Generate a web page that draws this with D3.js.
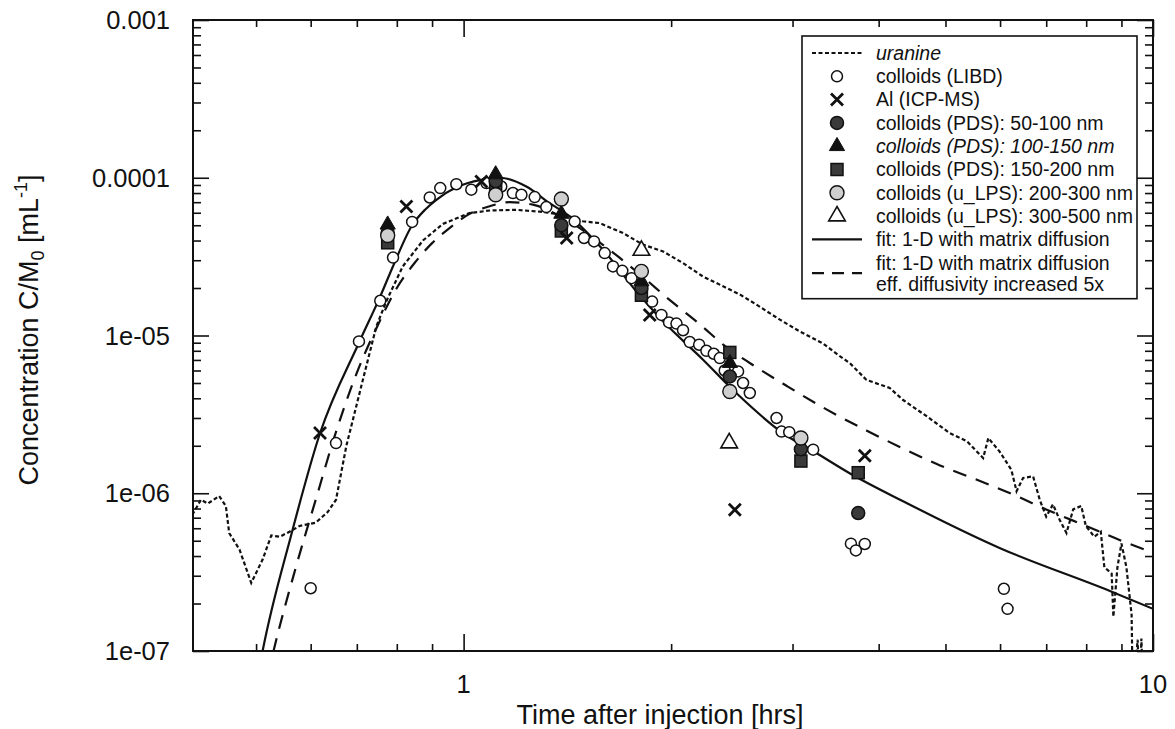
<!DOCTYPE html>
<html>
<head>
<meta charset="utf-8">
<script src="https://cdn.jsdelivr.net/npm/d3@7"></script>
<style>
  body { margin: 0; background: #fff; }
  text { font-family: "Liberation Sans", Arial, sans-serif; fill: #111; }
</style>
</head>
<body>
<svg id="chart" width="1175" height="729"></svg>
<script>
// ---- data: [time hrs, C/M0 per mL]
const uranine = [
  [0.404, 7.3e-7], [0.416, 9.1e-7], [0.4255, 8.6e-7], [0.442, 9.6e-7], [0.452, 8.3e-7],
  [0.457, 5.6e-7], [0.473, 4.4e-7], [0.492, 2.7e-7], [0.511, 3.8e-7], [0.526, 5.4e-7],
  [0.541, 5.3e-7], [0.559, 5.7e-7], [0.578, 6.2e-7], [0.61, 6.5e-7], [0.635, 7.6e-7],
  [0.653, 9.1e-7], [0.676, 2.0e-6], [0.714, 5.2e-6], [0.747, 1.14e-5], [0.772, 1.64e-5],
  [0.816, 2.74e-5], [0.873, 4.0e-5], [0.933, 5.1e-5], [1.02, 5.97e-5], [1.091, 6.2e-5],
  [1.192, 6.26e-5], [1.289, 6.1e-5], [1.409, 5.8e-5], [1.489, 5.3e-5], [1.575, 5.16e-5],
  [1.703, 4.46e-5], [1.82, 3.77e-5], [1.947, 3.41e-5], [2.08, 2.88e-5], [2.223, 2.37e-5],
  [2.379, 2.05e-5], [2.516, 1.82e-5], [2.659, 1.57e-5], [2.876, 1.26e-5], [3.074, 1.06e-5],
  [3.321, 8.9e-6], [3.513, 7.4e-6], [3.63, 6.7e-6], [3.84, 5.23e-6], [4.15, 4.65e-6],
  [4.34, 3.9e-6], [4.7, 3.07e-6], [5.07, 2.41e-6], [5.37, 2.14e-6], [5.67, 1.67e-6],
  [5.77, 2.24e-6], [5.99, 1.84e-6], [6.23, 1.41e-6], [6.34, 1.03e-6], [6.48, 1.25e-6],
  [6.7, 1.28e-6], [6.85, 9.1e-7], [7.0, 7.1e-7], [7.16, 8.5e-7], [7.32, 6.8e-7],
  [7.49, 5.6e-7], [7.66, 7.9e-7], [7.87, 8.3e-7], [7.99, 6.2e-7], [8.22, 5.3e-7],
  [8.4, 5.7e-7], [8.5, 3.4e-7], [8.71, 3.1e-7], [8.76, 1.65e-7], [8.88, 3.4e-7],
  [9.0, 4.8e-7], [9.15, 3.4e-7], [9.31, 1.7e-7], [9.35, 5e-8], [9.5, 1.18e-7],
  [9.56, 5e-8], [9.62, 1.2e-7], [9.68, 5e-8]
];

const fitSolid = [
  [0.50, 6e-8], [0.511, 1e-7], [0.562, 5.4e-7], [0.619, 2.4e-6], [0.705, 9.0e-6],
  [0.757, 1.77e-5], [0.79, 2.75e-5], [0.842, 5.0e-5], [0.88, 6.3e-5], [0.913, 7.25e-5],
  [0.976, 8.7e-5], [1.061, 9.7e-5], [1.13, 1.0e-4], [1.233, 8.8e-5], [1.333, 6.9e-5],
  [1.425, 5.7e-5], [1.593, 3.5e-5], [1.781, 1.9e-5], [1.947, 1.23e-5], [2.223, 7.05e-6],
  [2.488, 4.3e-6], [2.907, 2.4e-6], [3.248, 1.8e-6], [3.63, 1.34e-6], [4.34, 8.9e-7],
  [5.99, 4.5e-7], [8.66, 2.4e-7], [10, 1.85e-7]
];

const fitDashed = [
  [0.52, 7e-8], [0.53, 1e-7], [0.57, 3.3e-7], [0.612, 9.5e-7], [0.65, 2.3e-6],
  [0.70, 5.8e-6], [0.75, 1.15e-5], [0.80, 2.0e-5], [0.85, 2.9e-5], [0.90, 3.85e-5],
  [0.954, 4.8e-5], [1.02, 5.9e-5], [1.091, 6.6e-5], [1.166, 7.0e-5], [1.26, 6.75e-5],
  [1.40, 5.5e-5], [1.6, 3.7e-5], [1.8, 2.45e-5], [2.0, 1.65e-5], [2.2, 1.18e-5],
  [2.4, 8.5e-6], [2.614, 6.6e-6], [2.94, 4.8e-6], [3.36, 3.4e-6], [3.84, 2.5e-6],
  [4.34, 1.92e-6], [4.91, 1.5e-6], [5.6, 1.2e-6], [6.34, 9.6e-7], [7.0, 7.9e-7],
  [8.0, 6.2e-7], [9.0, 5.0e-7], [10, 4.2e-7]
];

const libd = [
  [0.60, 2.5e-7], [0.653, 2.08e-6], [0.705, 9.17e-6], [0.757, 1.66e-5], [0.790, 3.12e-5],
  [0.842, 5.25e-5], [0.893, 7.5e-5], [0.925, 8.6e-5], [0.976, 9.1e-5], [1.026, 8.4e-5],
  [1.079, 9.26e-5], [1.134, 8.8e-5], [1.179, 8.0e-5], [1.213, 7.8e-5], [1.268, 7.54e-5],
  [1.318, 6.52e-5], [1.449, 5.28e-5], [1.495, 4.15e-5], [1.546, 3.95e-5], [1.602, 3.33e-5],
  [1.647, 2.74e-5], [1.699, 2.57e-5], [1.752, 2.31e-5], [1.877, 1.64e-5], [1.936, 1.35e-5],
  [1.986, 1.21e-5], [2.036, 1.19e-5], [2.081, 1.08e-5], [2.128, 9.09e-6], [2.196, 8.74e-6],
  [2.250, 8.0e-6], [2.306, 7.66e-6], [2.353, 7.19e-6], [2.392, 6.0e-6], [2.501, 5.92e-6],
  [2.543, 5.0e-6], [2.601, 4.32e-6], [2.844, 3.0e-6], [2.892, 2.46e-6], [2.967, 2.44e-6],
  [3.214, 1.89e-6], [3.646, 4.79e-7], [3.707, 4.34e-7], [3.819, 4.77e-7], [6.077, 2.48e-7],
  [6.152, 1.85e-7]
];

const alIcp = [
  [0.619, 2.41e-6], [0.826, 6.58e-5], [1.061, 9.47e-5], [1.411, 4.15e-5], [1.862, 1.35e-5],
  [2.474, 7.86e-7], [3.819, 1.73e-6]
];

const pds50 = [[0.776, 4.48e-5], [1.113, 9.5e-5], [1.386, 5.0e-5], [1.811, 2.0e-5], [2.433, 5.5e-6], [3.085, 1.9e-6], [3.736, 7.49e-7]];
const pds100 = [[0.776, 5.04e-5], [1.113, 1.05e-4], [1.386, 5.9e-5], [1.811, 2.2e-5], [2.433, 6.69e-6]];
const pds150 = [[0.776, 3.87e-5], [1.113, 9.0e-5], [1.386, 4.6e-5], [1.811, 1.8e-5], [2.433, 7.81e-6], [3.085, 1.6e-6], [3.736, 1.35e-6]];
const lps200 = [[0.776, 4.3e-5], [1.113, 7.8e-5], [1.386, 7.33e-5], [1.811, 2.55e-5], [2.433, 4.42e-6], [3.085, 2.24e-6]];
const lps300 = [[1.811, 3.46e-5], [2.428, 2.08e-6]];

const xMajor = [1, 10];
const xMinor = [0.5, 0.6, 0.7, 0.8, 0.9, 2, 3, 4, 5, 6, 7, 8, 9];
const yMajor = [1e-7, 1e-6, 1e-5, 1e-4, 1e-3];
const yMajorLabels = ["1e-07", "1e-06", "1e-05", "0.0001", "0.001"];

const legendItems = [
  { kind: "uranine", text: ["uranine"], italic: true },
  { kind: "libd", text: ["colloids (LIBD)"] },
  { kind: "al", text: ["Al (ICP-MS)"] },
  { kind: "pds50", text: ["colloids (PDS): 50-100 nm"] },
  { kind: "pds100", text: ["colloids (PDS): 100-150 nm"], italic: true },
  { kind: "pds150", text: ["colloids (PDS): 150-200 nm"] },
  { kind: "lps200", text: ["colloids (u_LPS): 200-300 nm"] },
  { kind: "lps300", text: ["colloids (u_LPS): 300-500 nm"] },
  { kind: "solid", text: ["fit: 1-D with matrix diffusion"] },
  { kind: "dashed", text: ["fit: 1-D with matrix diffusion", "eff. diffusivity increased 5x"] }
];

// ---- layout
const W = 1175, H = 729;
const margin = { left: 193, right: W - 1153, top: 20, bottom: H - 651 };
const svg = d3.select("#chart");

const x = d3.scaleLog().domain([0.405, 10]).range([margin.left, W - margin.right]);
const y = d3.scaleLog().domain([1e-7, 1e-3]).range([H - margin.bottom, margin.top]);

// minor y ticks 2..9 in each decade
const yMinor = [];
for (let e = -7; e < -3; e++) for (let k = 2; k <= 9; k++) yMinor.push(k * Math.pow(10, e));

svg.append("defs").append("clipPath").attr("id", "clip")
  .append("rect")
  .attr("x", x.range()[0]).attr("y", y.range()[1])
  .attr("width", x.range()[1] - x.range()[0])
  .attr("height", y.range()[0] - y.range()[1]);

// ticks on all four sides, pointing inward
function tickAxis(axisFn, scale, vals, size, transform) {
  const g = svg.append("g").attr("transform", transform)
    .call(axisFn(scale).tickValues(vals).tickSize(size).tickFormat(""));
  g.select(".domain").remove();
  g.selectAll(".tick line").attr("stroke", "#111").attr("stroke-width", 1.6);
  return g;
}
const bx = y.range()[0], tx = y.range()[1], lx = x.range()[0], rx = x.range()[1];
tickAxis(d3.axisBottom, x, xMajor, -17, `translate(0,${bx})`);
tickAxis(d3.axisBottom, x, xMinor, -7, `translate(0,${bx})`);
tickAxis(d3.axisTop, x, xMajor, -17, `translate(0,${tx})`);
tickAxis(d3.axisTop, x, xMinor, -7, `translate(0,${tx})`);
tickAxis(d3.axisLeft, y, yMajor, -16, `translate(${lx},0)`);
tickAxis(d3.axisLeft, y, yMinor, -8, `translate(${lx},0)`);
tickAxis(d3.axisRight, y, yMajor, -16, `translate(${rx},0)`);
tickAxis(d3.axisRight, y, yMinor, -8, `translate(${rx},0)`);

// frame
svg.append("rect")
  .attr("x", lx).attr("y", tx).attr("width", rx - lx).attr("height", bx - tx)
  .attr("fill", "none").attr("stroke", "#111").attr("stroke-width", 2);

// tick labels
svg.append("g").selectAll("text").data(yMajor).join("text")
  .attr("x", 170).attr("y", d => y(d)).attr("dy", "0.36em")
  .attr("text-anchor", "end").attr("font-size", 25.5)
  .text((d, i) => yMajorLabels[i]);
svg.append("g").selectAll("text").data(xMajor).join("text")
  .attr("x", d => x(d)).attr("y", 693)
  .attr("text-anchor", "middle").attr("font-size", 25.5)
  .text(d => d);

// axis titles
svg.append("text")
  .attr("x", 660).attr("y", 724)
  .attr("text-anchor", "middle").attr("font-size", 27)
  .text("Time after injection [hrs]");
const yt = svg.append("text")
  .attr("transform", `translate(38,330) rotate(-90)`)
  .attr("text-anchor", "middle").attr("font-size", 27);
yt.append("tspan").text("Concentration C/M");
yt.append("tspan").attr("font-size", 18).attr("dy", 6).text("0");
yt.append("tspan").attr("dy", -6).text(" [mL");
yt.append("tspan").attr("font-size", 18).attr("dy", -11).text("-1");
yt.append("tspan").attr("dy", 11).text("]");

// lines
const plot = svg.append("g").attr("clip-path", "url(#clip)");
const line = d3.line().x(d => x(d[0])).y(d => y(d[1]));
const smooth = d3.line().x(d => x(d[0])).y(d => y(d[1])).curve(d3.curveMonotoneX);

const lineStyles = {
  uranine: { dash: "4,2.5", width: 2.2 },
  solid: { dash: null, width: 2.2 },
  dashed: { dash: "14,10", width: 2.2 }
};
plot.append("path").datum(uranine)
  .attr("d", line).attr("fill", "none").attr("stroke", "#111")
  .attr("stroke-width", lineStyles.uranine.width).attr("stroke-dasharray", lineStyles.uranine.dash);
plot.append("path").datum(fitDashed)
  .attr("d", smooth).attr("fill", "none").attr("stroke", "#111")
  .attr("stroke-width", lineStyles.dashed.width).attr("stroke-dasharray", lineStyles.dashed.dash);
plot.append("path").datum(fitSolid)
  .attr("d", smooth).attr("fill", "none").attr("stroke", "#111")
  .attr("stroke-width", lineStyles.solid.width);

// markers
function drawMarker(sel, kind) {
  if (kind === "libd") {
    sel.append("circle").attr("r", 5.5).attr("fill", "#fff").attr("stroke", "#111").attr("stroke-width", 1.5);
  } else if (kind === "al") {
    sel.append("path").attr("d", "M-6,-6L6,6M-6,6L6,-6").attr("stroke", "#111").attr("stroke-width", 2.8);
  } else if (kind === "pds50") {
    sel.append("circle").attr("r", 6.5).attr("fill", "#3a3a3a").attr("stroke", "#111").attr("stroke-width", 1.5);
  } else if (kind === "pds100") {
    sel.append("path").attr("d", d3.symbol(d3.symbolTriangle, 100)()).attr("fill", "#111").attr("stroke", "#111").attr("stroke-width", 1);
  } else if (kind === "pds150") {
    sel.append("rect").attr("x", -6).attr("y", -6).attr("width", 12).attr("height", 12)
      .attr("fill", "#3a3a3a").attr("stroke", "#111").attr("stroke-width", 1.5);
  } else if (kind === "lps200") {
    sel.append("circle").attr("r", 7).attr("fill", "#cfcfcf").attr("stroke", "#111").attr("stroke-width", 1.4);
  } else if (kind === "lps300") {
    sel.append("path").attr("d", d3.symbol(d3.symbolTriangle, 120)()).attr("fill", "#fff").attr("stroke", "#111").attr("stroke-width", 1.6);
  }
}

const series = [
  ["libd", libd], ["pds150", pds150], ["pds50", pds50], ["pds100", pds100],
  ["lps200", lps200], ["lps300", lps300], ["al", alIcp]
];
series.forEach(([kind, data]) => {
  svg.append("g").selectAll("g").data(data).join("g")
    .attr("transform", d => `translate(${x(d[0])},${y(d[1])})`)
    .each(function () { drawMarker(d3.select(this), kind); });
});

// legend
const lg = { x: 802, y: 36, w: 335, row: 23.3, sub: 21, first: 17, font: 19.5 };
const legendG = svg.append("g");
const box = legendG.append("rect")
  .attr("x", lg.x).attr("y", lg.y).attr("width", lg.w)
  .attr("fill", "#fff").attr("stroke", "#111").attr("stroke-width", 1.6);
let rowY = lg.y + lg.first, lastY = rowY;
legendItems.forEach(item => {
  const n = item.text.length;
  const cy = rowY + (n - 1) * lg.sub / 2;
  const g = legendG.append("g");
  if (lineStyles[item.kind]) {
    g.append("line").attr("x1", lg.x + 10).attr("x2", lg.x + 60).attr("y1", cy).attr("y2", cy)
      .attr("stroke", "#111").attr("stroke-width", lineStyles[item.kind].width)
      .attr("stroke-dasharray", item.kind === "dashed" ? "12,8" : lineStyles[item.kind].dash);
  } else {
    const m = g.append("g").attr("transform", `translate(${lg.x + 35},${cy})`);
    drawMarker(m, item.kind);
  }
  item.text.forEach((t, i) => {
    lastY = rowY + i * lg.sub;
    g.append("text").attr("x", lg.x + 74).attr("y", lastY).attr("dy", "0.35em")
      .attr("font-size", lg.font).attr("font-style", item.italic ? "italic" : null)
      .text(t);
  });
  rowY += lg.row + (n - 1) * lg.sub;
});
box.attr("height", lastY + 15 - lg.y);
</script>
</body>
</html>
